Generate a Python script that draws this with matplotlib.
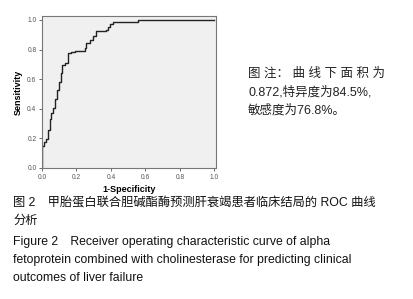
import numpy as np
import matplotlib
matplotlib.use('Agg')
import matplotlib.pyplot as plt

plt.rcParams['font.family'] = ['Liberation Sans', 'Noto Sans CJK SC', 'DejaVu Sans']

# ROC curve points (1 - specificity, sensitivity).
fpr = [0.0, 0.0, 0.013, 0.024, 0.034, 0.044, 0.053, 0.063, 0.073, 0.086,
       0.098, 0.108, 0.118, 0.131, 0.151, 0.170, 0.190, 0.248, 0.258,
       0.281, 0.296, 0.316, 0.370, 0.384, 0.394, 0.413, 0.559, 1.0]
tpr = [0.0, 0.151, 0.178, 0.194, 0.257, 0.331, 0.369, 0.403, 0.466, 0.527,
       0.583, 0.640, 0.696, 0.712, 0.775, 0.786, 0.793, 0.809, 0.847,
       0.865, 0.892, 0.928, 0.932, 0.955, 0.973, 0.989, 1.0, 1.0]
ticks = [0.0, 0.2, 0.4, 0.6, 0.8, 1.0]

note_lines = ['图 注： 曲 线 下 面 积 为', '0.872,特异度为84.5%,', '敏感度为76.8%。']
caption_lines = [
    '图 2\u3000甲胎蛋白联合胆碱酯酶预测肝衰竭患者临床结局的 ROC 曲线',
    '分析',
    'Figure 2\u3000Receiver operating characteristic curve of alpha',
    'fetoprotein combined with cholinesterase for predicting clinical',
    'outcomes of liver failure',
]

fig = plt.figure(figsize=(4.13, 2.99), dpi=100)
W, H = 413, 299
ax = fig.add_axes([42 / W, 1 - 168 / H, 174 / W, 152 / H])
ax.set_facecolor('#f0f0f0')
ax.plot(fpr, tpr, drawstyle='steps-post', color='#222222', lw=1.0)
ax.set_xlim(0, 1.01)
ax.set_ylim(0, 1.027)
ax.set_xticks(ticks)
ax.set_yticks(ticks)
ax.set_xticklabels(['%.1f' % t for t in ticks])
ax.set_yticklabels(['%.1f' % t for t in ticks])
ax.tick_params(direction='out', length=2.5, width=0.6, labelsize=4.8,
               colors='#555555', pad=1.5)
for s in ax.spines.values():
    s.set_color('#777777')
    s.set_linewidth(0.8)
ax.set_xlabel('1-Specificity', fontsize=6.5, fontweight='bold', labelpad=3)
ax.set_ylabel('Sensitivity', fontsize=6.5, fontweight='bold', labelpad=3)

for i, line in enumerate(note_lines):
    fig.text(248 / W, 1 - (74 + 18 * i) / H, line, fontsize=9,
             va='center', ha='left', color='#222222')

ys = [203, 221, 242, 260, 278]
for y, line in zip(ys, caption_lines):
    fig.text(13 / W, 1 - y / H, line, fontsize=8.85, va='center', ha='left',
             color='#111111')

fig.savefig('out.png', dpi=100)
